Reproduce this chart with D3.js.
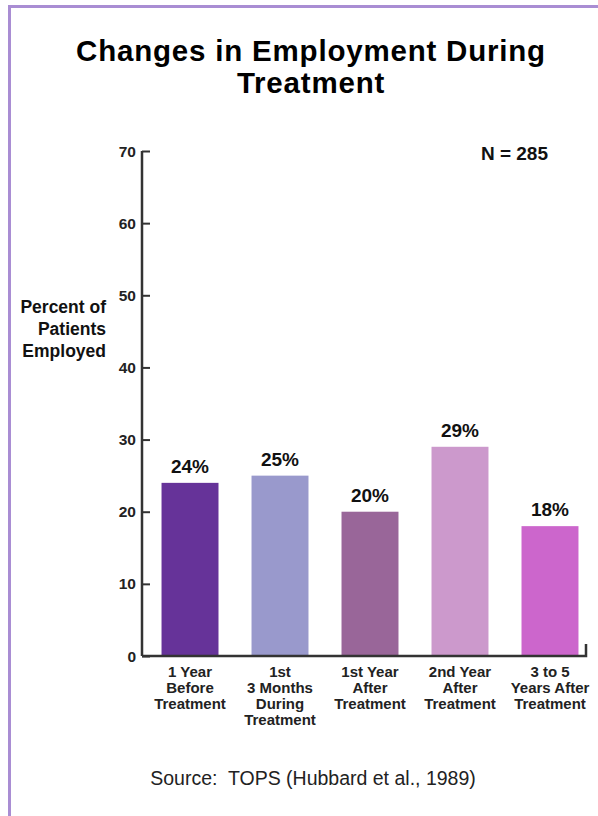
<!DOCTYPE html>
<html><head><meta charset="utf-8">
<script src="https://cdn.jsdelivr.net/npm/d3@7"></script>
<style>
body{margin:0;background:#fff;}
svg{display:block;font-family:"Liberation Sans",Arial,Helvetica,sans-serif;}
</style></head>
<body>
<svg id="c" width="598" height="816"></svg>
<script>
const categories = [
  ["1 Year","Before","Treatment"],
  ["1st","3 Months","During","Treatment"],
  ["1st Year","After","Treatment"],
  ["2nd Year","After","Treatment"],
  ["3 to 5","Years After","Treatment"]
];
const values = [24, 25, 20, 29, 18];
const colors = ["#663399", "#9999cc", "#996699", "#cc99cc", "#cc66cc"];
const yTicks = [0, 10, 20, 30, 40, 50, 60, 70];
const titleLines = ["Changes in Employment During", "Treatment"];
const yLabelLines = ["Percent of", "Patients", "Employed"];
const nLabel = "N = 285";
const sourceText = "Source:  TOPS (Hubbard et al., 1989)";

const svg = d3.select("#c");
const axisColor = "#333";

// frame
svg.append("line").attr("x1",9.5).attr("x2",9.5).attr("y1",5).attr("y2",816)
  .attr("stroke","#a98dd3").attr("stroke-width",3);
svg.append("line").attr("x1",8).attr("x2",598).attr("y1",6.5).attr("y2",6.5)
  .attr("stroke","#a98dd3").attr("stroke-width",3);

// title
svg.append("text").attr("text-anchor","middle").attr("font-weight","bold")
  .attr("font-size",29.5).attr("letter-spacing",0.8).attr("fill","#000")
  .selectAll("tspan").data(titleLines).join("tspan")
  .attr("x",311).attr("y",(d,i)=>61+i*32).text(d=>d);

const x0 = 142, y0 = 656, yTop = 151;
const y = d3.scaleLinear().domain([0,70]).range([y0, yTop]);
const x = d3.scaleBand().domain(d3.range(categories.length))
  .range([x0, 598]).paddingInner(0.367).paddingOuter(0.217);

// y axis
const yAxis = d3.axisRight(y).tickValues(yTicks).tickSize(8).tickFormat("");
const gy = svg.append("g").attr("transform",`translate(${x0},0)`).call(yAxis);
gy.select(".domain").attr("d",`M0,${yTop}V${y0}`).attr("stroke",axisColor).attr("stroke-width",2.5);
gy.selectAll(".tick line").attr("stroke",axisColor).attr("stroke-width",2);
svg.append("g").selectAll("text").data(yTicks).join("text")
  .attr("x",x0-6).attr("y",d=>y(d)+5.5).attr("text-anchor","end")
  .attr("font-weight","bold").attr("font-size",15.5).attr("fill","#222")
  .text(d=>d);

// bars
svg.append("g").selectAll("rect").data(values).join("rect")
  .attr("x",(d,i)=>x(i)).attr("width",x.bandwidth())
  .attr("y",d=>y(d)).attr("height",d=>y0-y(d))
  .attr("fill",(d,i)=>colors[i]);

// value labels
svg.append("g").selectAll("text").data(values).join("text")
  .attr("x",(d,i)=>x(i)+x.bandwidth()/2).attr("y",d=>y(d)-10)
  .attr("text-anchor","middle").attr("font-weight","bold").attr("font-size",19)
  .attr("fill","#111").text(d=>d+"%");

// x axis
svg.append("path").attr("d",`M${x0},${y0}H586V${y0-12}`)
  .attr("fill","none").attr("stroke",axisColor).attr("stroke-width",2.5);

// category labels
const cl = svg.append("g").selectAll("text").data(categories).join("text")
  .attr("text-anchor","middle").attr("font-weight","bold").attr("font-size",15)
  .attr("fill","#222");
cl.selectAll("tspan").data((d,i)=>d.map(s=>({s,i}))).join("tspan")
  .attr("x",d=>x(d.i)+x.bandwidth()/2).attr("y",(d,j)=>677+j*16).text(d=>d.s);

// y label
svg.append("text").attr("text-anchor","end").attr("font-weight","bold")
  .attr("font-size",17.5).attr("fill","#111")
  .selectAll("tspan").data(yLabelLines).join("tspan")
  .attr("x",106).attr("y",(d,i)=>313+i*22).text(d=>d);

// N
svg.append("text").attr("x",548).attr("y",160).attr("text-anchor","end")
  .attr("font-weight","bold").attr("font-size",19).attr("fill","#111").text(nLabel);

// source
svg.append("text").attr("x",313).attr("y",785).attr("text-anchor","middle")
  .attr("font-size",19.5).attr("fill","#222").style("white-space","pre").text(sourceText);
</script>
</body></html>
